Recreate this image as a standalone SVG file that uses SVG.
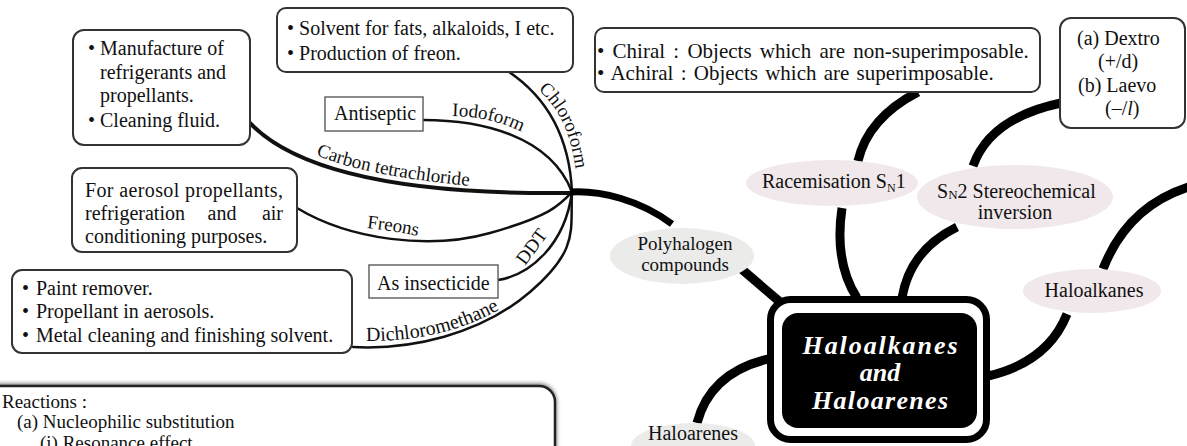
<svg xmlns="http://www.w3.org/2000/svg" width="1187" height="446" viewBox="0 0 1187 446">
<style>
.t{font-family:"Liberation Serif","Times New Roman","DejaVu Serif",serif;font-size:20px;fill:#111}
.s19{font-size:19px}
.s21{font-size:21px}
.box{fill:#fff;stroke:#333;stroke-width:2}
.sq{fill:#fff;stroke:#666;stroke-width:1.5}
.thin{fill:none;stroke:#111;stroke-width:2.5;stroke-linecap:round}
.mid{fill:none;stroke:#111;stroke-width:4;stroke-linecap:round}
.thick{fill:none;stroke:#000;stroke-width:9;stroke-linecap:butt}
.pink{fill:#f0e8ea}
.grey{fill:#ebebea}
.ct{font-family:"Liberation Serif","Times New Roman","DejaVu Serif",serif;font-style:italic;font-weight:bold;font-size:26px;fill:#fff;text-anchor:middle}
</style>
<defs>
<filter id="sh" x="-5%" y="-20%" width="110%" height="140%">
<feGaussianBlur in="SourceAlpha" stdDeviation="2"/>
<feOffset dx="0" dy="-1"/>
<feComponentTransfer><feFuncA type="linear" slope="0.6"/></feComponentTransfer>
<feMerge><feMergeNode/><feMergeNode in="SourceGraphic"/></feMerge>
</filter>
<path id="pChloro" d="M 538,90 Q 572,118 577,182"/>
<path id="pIodo" d="M 452,116 Q 500,117 534,139"/>
<path id="pCarbon" d="M 316,155 Q 370,178 494,188"/>
<path id="pFreons" d="M 367,228 Q 395,231 427,238"/>
<path id="pDDT" d="M 525,266 L 556,224"/>
<path id="pDichloro" d="M 366,341 Q 450,342 512,302"/>
</defs>

<g id="connectors">
<path class="thin" d="M 498,65 Q 568,105 572,192"/>
<path class="thin" d="M 423,120 C 480,120 550,135 572,192"/>
<path class="mid" d="M 250,123 C 295,170 400,195 572,193"/>
<path class="thin" d="M 297,208 C 350,240 430,250 490,233 S 560,205 572,192"/>
<path class="thin" d="M 498,280 C 530,275 565,245 572,192"/>
<path class="thin" d="M 353,347 C 410,350 480,335 530,292 S 570,230 572,192"/>
<path fill="none" stroke="#000" stroke-width="7" d="M 570,192 C 600,190 640,200 672,224"/>
<path class="thick" d="M 738,266 L 780,302"/>
<path class="thick" d="M 842,208 Q 834,262 857,298"/>
<path class="thick" d="M 957,227 Q 910,250 902,298"/>
<path class="thick" d="M 1067,314 Q 1048,362 988,376"/>
<path class="thick" d="M 768,359 Q 710,373 697,423"/>
<path class="thick" d="M 918,92 Q 868,118 858,161"/>
<path class="thick" stroke-width="8" d="M 1061,103 Q 990,118 973,166"/>
<path class="thick" d="M 1192,186 Q 1128,205 1103,269"/>
<text class="t s19"><textPath href="#pChloro">Chloroform</textPath></text>
<text class="t s19"><textPath href="#pIodo">Iodoform</textPath></text>
<text class="t s19"><textPath href="#pCarbon">Carbon tetrachloride</textPath></text>
<text class="t s19"><textPath href="#pFreons">Freons</textPath></text>
<text class="t s19"><textPath href="#pDDT">DDT</textPath></text>
<text class="t"><textPath href="#pDichloro">Dichloromethane</textPath></text>
</g>

<g id="ccl4-uses">
<rect class="box" x="73" y="30" width="177" height="115" rx="11"/>
<text class="t" x="88" y="55">•</text><text class="t" x="100" y="55">Manufacture of</text>
<text class="t" x="100" y="79">refrigerants and</text>
<text class="t" x="100" y="102">propellants.</text>
<text class="t" x="88" y="127">•</text><text class="t" x="100" y="127">Cleaning fluid.</text>
</g>

<g id="chloroform-uses">
<rect class="box" x="277" y="8" width="296" height="64" rx="9"/>
<text class="t" x="287" y="35">• Solvent for fats, alkaloids, I etc.</text>
<text class="t" x="287" y="60">• Production of freon.</text>
</g>

<g id="antiseptic">
<rect class="sq" x="325" y="97" width="98" height="34"/>
<text class="t" x="334" y="120">Antiseptic</text>
</g>

<g id="freons-uses">
<rect class="box" x="72" y="168" width="225" height="84" rx="10"/>
<text class="t" x="85" y="197" textLength="198">For aerosol propellants,</text>
<text class="t" x="85" y="220">refrigeration</text>
<text class="t" x="222" y="220" text-anchor="middle">and</text>
<text class="t" x="283" y="220" text-anchor="end">air</text>
<text class="t" x="85" y="243">conditioning purposes.</text>
</g>

<g id="insecticide">
<rect class="sq" x="369" y="265" width="129" height="33"/>
<text class="t" x="377" y="290">As insecticide</text>
</g>

<g id="dichloromethane-uses">
<rect class="box" x="12" y="270" width="340" height="83" rx="10"/>
<text class="t" x="22" y="295">•</text><text class="t" x="36" y="295">Paint remover.</text>
<text class="t" x="22" y="318">•</text><text class="t" x="36" y="318">Propellant in aerosols.</text>
<text class="t" x="22" y="342">•</text><text class="t" x="36" y="342">Metal cleaning and finishing solvent.</text>
</g>

<g id="polyhalogen">
<ellipse class="grey" cx="682" cy="256" rx="72" ry="28"/>
<text class="t s19" x="685" y="250" text-anchor="middle">Polyhalogen</text>
<text class="t s19" x="685" y="271" text-anchor="middle">compounds</text>
</g>

<g id="chirality">
<rect class="box" x="595" y="28" width="445" height="64" rx="9"/>
<text class="t s21" x="597" y="58" word-spacing="3">• Chiral : Objects which are non-superimposable.</text>
<text class="t s21" x="597" y="80" word-spacing="2">• Achiral : Objects which are superimposable.</text>
</g>

<g id="optical">
<rect class="box" x="1060" y="18" width="125" height="110" rx="11"/>
<text class="t" x="1077" y="45">(a) Dextro</text>
<text class="t" x="1098" y="68">(+/d)</text>
<text class="t" x="1078" y="92">(b) Laevo</text>
<text class="t" x="1105" y="115">(–/<tspan font-style="italic">l</tspan>)</text>
</g>

<g id="racemisation">
<ellipse class="pink" cx="832" cy="183" rx="86" ry="23"/>
<text class="t" x="762" y="188">Racemisation S<tspan font-size="12" dy="4">N</tspan><tspan dy="-4">1</tspan></text>
</g>

<g id="sn2">
<ellipse class="pink" cx="1015" cy="197" rx="98" ry="32"/>
<text class="t" x="937" y="198">S<tspan font-size="13" dy="1">N</tspan><tspan dy="-1">2 Stereochemical</tspan></text>
<text class="t" x="1015" y="219" text-anchor="middle">inversion</text>
</g>

<g id="haloalkanes">
<ellipse class="pink" cx="1092" cy="291" rx="69" ry="22"/>
<text class="t" x="1094" y="297" text-anchor="middle">Haloalkanes</text>
</g>

<g id="haloarenes">
<ellipse class="grey" cx="693" cy="446" rx="62" ry="23"/>
<text class="t" x="693" y="440" text-anchor="middle">Haloarenes</text>
</g>

<g id="centre">
<rect x="770.5" y="299.5" width="216" height="140" rx="20" fill="#fff" stroke="#000" stroke-width="7"/>
<rect x="782" y="313" width="195" height="115" rx="16" fill="#000"/>
<text class="ct" x="880" y="354" textLength="155">Haloalkanes</text>
<text class="ct" x="880" y="381">and</text>
<text class="ct" x="880" y="409" textLength="136">Haloarenes</text>
</g>

<g id="reactions">
<rect x="-30" y="386" width="585" height="120" rx="16" fill="#fff" stroke="#222" stroke-width="2.5" filter="url(#sh)"/>
<text class="t s19" x="2" y="408">Reactions :</text>
<text class="t s19" x="17" y="428">(a) Nucleophilic substitution</text>
<text class="t s19" x="40" y="449">(i) Resonance effect</text>
</g>
</svg>
